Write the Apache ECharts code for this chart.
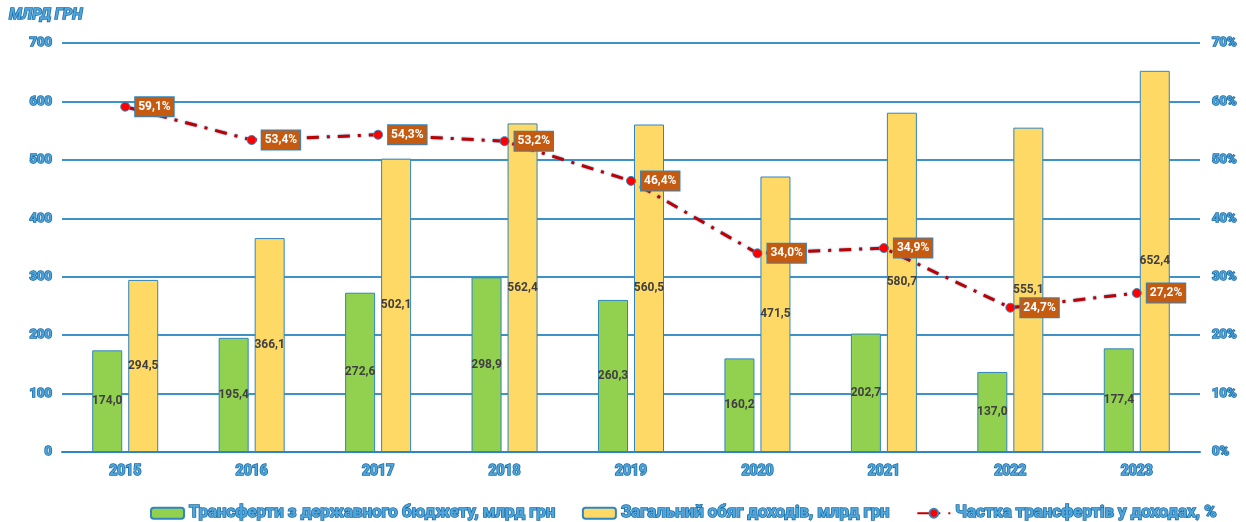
<!DOCTYPE html>
<html>
<head>
<meta charset="utf-8">
<script src="https://cdn.jsdelivr.net/npm/echarts@6/dist/echarts.min.js"></script>
<style>
html, body { margin: 0; padding: 0; background: #fff; }
#chart { width: 1246px; height: 522px; }
</style>
</head>
<body>
<div id="chart"></div>
<script>
var years = ['2015', '2016', '2017', '2018', '2019', '2020', '2021', '2022', '2023'];
var transfers = [174.0, 195.4, 272.6, 298.9, 260.3, 160.2, 202.7, 137.0, 177.4];
var revenues = [294.5, 366.1, 502.1, 562.4, 560.5, 471.5, 580.7, 555.1, 652.4];
var shares = [59.1, 53.4, 54.3, 53.2, 46.4, 34.0, 34.9, 24.7, 27.2];

var blue = '#2f86c0';
var glowText = {
    color: '#4ea6dc',
    textBorderColor: '#1c6aa0',
    textBorderWidth: 1.5,
    fontWeight: 'bold',
    fontFamily: 'Roboto'
};

function comma(v) {
    return v.toFixed(1).replace('.', ',');
}

var myChart = echarts.init(document.getElementById('chart'));
var option =
{
    animation : false,
    title :
    {
        text : 'МЛРД ГРН',
        left : 4,
        top : 3,
        textStyle : Object.assign({}, glowText, { fontSize : 15, fontStyle : 'italic' })
    },
    grid :
    {
        left : 62,
        right : 46,
        top : 43,
        bottom : 70
    },
    legend :
    {
        left : 145,
        top : 499,
        itemWidth : 33,
        itemHeight : 11,
        itemGap : 26,
        textStyle : Object.assign({}, glowText, { fontSize : 16.8 }),
        data : [
            { name : 'Трансферти з державного бюджету, млрд грн' },
            { name : 'Загальний обяг доходів, млрд грн' },
            { name : 'Частка трансфертів у доходах, %' }
        ]
    },
    xAxis :
    {
        type : 'category',
        data : years,
        axisLine : { lineStyle : { color : blue, width : 2 } },
        axisTick : { lineStyle : { color : blue, width : 2 }, length : 5 },
        axisLabel : Object.assign({}, glowText, { fontSize : 14, margin : 12 })
    },
    yAxis : [
        {
            type : 'value',
            min : 0,
            max : 700,
            interval : 100,
            axisLine : { show : false },
            axisTick : { show : false },
            axisLabel : Object.assign({}, glowText, { fontSize : 13, margin : 10 }),
            splitLine : { lineStyle : { color : '#3f92c8', width : 2 } }
        },
        {
            type : 'value',
            min : 0,
            max : 70,
            interval : 10,
            axisLine : { show : false },
            axisTick : { show : false },
            splitLine : { show : false },
            axisLabel : Object.assign({}, glowText, {
                fontSize : 13,
                margin : 12,
                formatter : '{value}%'
            })
        }
    ],
    series : [
        {
            name : 'Трансферти з державного бюджету, млрд грн',
            type : 'bar',
            data : transfers,
            barWidth : 30,
            barGap : '20%',
            itemStyle : { color : '#92d050', borderColor : blue, borderWidth : 1 },
            label :
            {
                show : true,
                position : 'inside',
                color : '#404040',
                fontWeight : 'bold',
                fontSize : 12,
                fontFamily : 'Roboto',
                formatter : function (p) { return comma(p.value); }
            }
        },
        {
            name : 'Загальний обяг доходів, млрд грн',
            type : 'bar',
            data : revenues,
            barWidth : 30,
            barGap : '20%',
            itemStyle : { color : '#ffd966', borderColor : blue, borderWidth : 1 },
            label :
            {
                show : true,
                position : 'inside',
                color : '#404040',
                fontWeight : 'bold',
                fontSize : 12,
                fontFamily : 'Roboto',
                formatter : function (p) { return comma(p.value); }
            }
        },
        {
            name : 'Частка трансфертів у доходах, %',
            type : 'line',
            yAxisIndex : 1,
            data : shares,
            symbol : 'circle',
            symbolSize : 9,
            itemStyle : { color : '#ff0000', borderColor : blue, borderWidth : 1 },
            lineStyle :
            {
                color : '#c00000',
                width : 3,
                type : [12, 8, 3, 8],
                shadowColor : '#2f86c0',
                shadowBlur : 2
            },
            z : 5,
            label :
            {
                show : true,
                position : 'right',
                distance : 5,
                color : '#fff',
                fontWeight : 'bold',
                fontSize : 12,
                fontFamily : 'Roboto',
                backgroundColor : '#c55a11',
                borderColor : blue,
                borderWidth : 1,
                padding : [4, 3, 3, 3],
                formatter : function (p) { return comma(p.value) + '%'; }
            }
        }
    ]
};

myChart.setOption(option);
</script>
</body>
</html>
